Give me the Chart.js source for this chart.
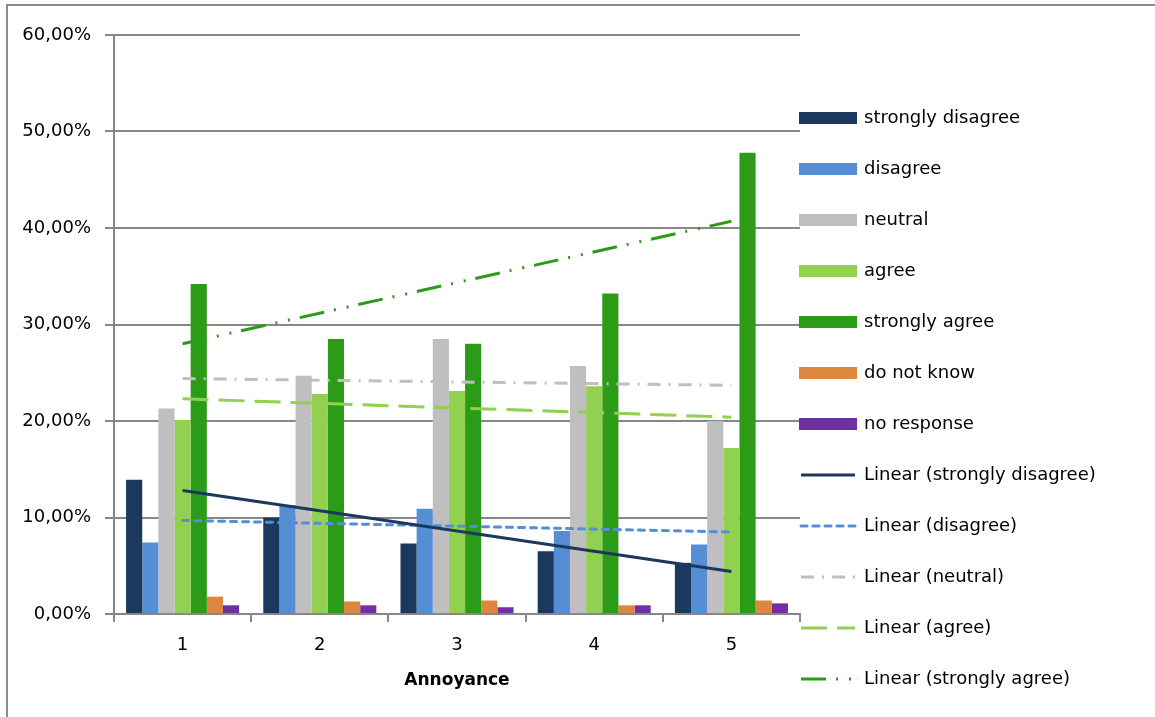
<!DOCTYPE html>
<html>
<head>
<meta charset="utf-8">
<title>Annoyance</title>
<script src="https://cdn.jsdelivr.net/npm/chart.js@4.4.1/dist/chart.umd.min.js"></script>
<style>
  html, body { margin: 0; padding: 0; background: #ffffff; }
  canvas { display: block; }
</style>
</head>
<body>
<canvas id="chart" width="1155" height="717"></canvas>
<script>
// Annoyance levels 1..5
const categories = ['1', '2', '3', '4', '5'];

// Share of answers per annoyance level (percent)
const stronglyDisagree = [13.9, 10.0, 7.3, 6.5, 5.3];
const disagree         = [7.4, 11.3, 10.9, 8.6, 7.2];
const neutral          = [21.3, 24.7, 28.5, 25.7, 20.0];
const agree            = [20.1, 22.8, 23.1, 23.6, 17.2];
const stronglyAgree    = [34.2, 28.5, 28.0, 33.2, 47.8];
const doNotKnow        = [1.8, 1.3, 1.4, 0.9, 1.4];
const noResponse       = [0.9, 0.9, 0.7, 0.9, 1.1];

// Linear trend lines: value at level 1 and at level 5
const trendStronglyDisagree = [12.8, null, null, null, 4.4];
const trendDisagree         = [9.7, null, null, null, 8.5];
const trendNeutral          = [24.4, null, null, null, 23.7];
const trendAgree            = [22.3, null, null, null, 20.4];
const trendStronglyAgree    = [28.0, null, null, null, 40.7];

const yTicks = [0, 10, 20, 30, 40, 50, 60];

const FONT = "'DejaVu Sans', Verdana, sans-serif";
const GRID = '#878787';

function bar(label, data, color) {
  return { type: 'bar', label, data, backgroundColor: color, borderWidth: 0, order: 1 };
}
function trend(label, data, color, dash, cap) {
  return {
    type: 'line', label, data, borderColor: color, backgroundColor: color,
    borderWidth: 3, borderDash: dash, borderCapStyle: cap || 'butt',
    pointRadius: 0, pointHoverRadius: 0, spanGaps: true, tension: 0, fill: false, order: 0
  };
}

const datasets = [
  bar('strongly disagree', stronglyDisagree, '#1B385D'),
  bar('disagree', disagree, '#558ED5'),
  bar('neutral', neutral, '#BFBFBF'),
  bar('agree', agree, '#92D050'),
  bar('strongly agree', stronglyAgree, '#2C9B17'),
  bar('do not know', doNotKnow, '#DC8640'),
  bar('no response', noResponse, '#7030A0'),
  trend('Linear (strongly disagree)', trendStronglyDisagree, '#1B385D', []),
  trend('Linear (disagree)', trendDisagree, '#558ED5', [6, 6], 'round'),
  trend('Linear (neutral)', trendNeutral, '#BFBFBF', [13, 8, 2, 8]),
  trend('Linear (agree)', trendAgree, '#92D050', [26, 10]),
  trend('Linear (strongly agree)', trendStronglyAgree, '#2C9B17', [25, 10, 2, 11, 2, 10])
];

// Frame around the whole chart plus a vertical legend on the right
const frameAndLegend = {
  id: 'frameAndLegend',
  beforeDraw(chart) {
    const ctx = chart.ctx;
    ctx.save();
    ctx.strokeStyle = '#8a8a8a';
    ctx.lineWidth = 2;
    ctx.strokeRect(7, 5, chart.width + 20, chart.height + 20);
    ctx.restore();
  },
  afterDraw(chart) {
    const ctx = chart.ctx;
    const x0 = 799, sw = 58, y0 = 118, step = 51;
    ctx.save();
    ctx.font = '18px ' + FONT;
    ctx.textBaseline = 'middle';
    ctx.textAlign = 'left';
    chart.data.datasets.forEach((ds, i) => {
      const y = y0 + i * step;
      if (ds.type === 'bar') {
        ctx.fillStyle = ds.backgroundColor;
        ctx.fillRect(x0, y - 6, sw, 12);
      } else {
        ctx.strokeStyle = ds.borderColor;
        ctx.lineWidth = 3;
        ctx.lineCap = ds.borderCapStyle;
        ctx.setLineDash(ds.borderDash || []);
        ctx.beginPath();
        ctx.moveTo(x0 + 2, y);
        ctx.lineTo(x0 + sw - 2, y);
        ctx.stroke();
        ctx.setLineDash([]);
      }
      ctx.fillStyle = '#000000';
      ctx.fillText(ds.label, x0 + sw + 7, y);
    });
    ctx.restore();
  }
};

new Chart(document.getElementById('chart'), {
  data: { labels: categories, datasets },
  plugins: [frameAndLegend],
  options: {
    responsive: false,
    animation: false,
    devicePixelRatio: 1,
    layout: { padding: { left: 0, right: 355, top: 35, bottom: 0 } },
    datasets: { bar: { categoryPercentage: 0.824, barPercentage: 1.0 } },
    plugins: { legend: { display: false }, tooltip: { enabled: false } },
    scales: {
      x: {
        type: 'category',
        offset: true,
        grid: { offset: true, drawOnChartArea: false, drawTicks: true, tickLength: 8, color: GRID, lineWidth: 2 },
        border: { display: true, color: GRID, width: 2 },
        ticks: { color: '#000000', font: { family: FONT, size: 18 }, padding: 13, maxRotation: 0 },
        title: { display: true, text: 'Annoyance', color: '#000000', font: { family: FONT, size: 17, weight: 'bold' }, padding: { top: 0, bottom: 26 } },
        afterFit(scale) { scale.height = 103; }
      },
      y: {
        min: 0, max: 60,
        afterBuildTicks(scale) { scale.ticks = yTicks.map(v => ({ value: v })); },
        grid: { color: GRID, lineWidth: 2, drawTicks: true, tickLength: 9 },
        border: { display: true, color: GRID, width: 2 },
        ticks: {
          color: '#000000', font: { family: FONT, size: 18 }, padding: 14,
          callback: v => v.toFixed(2).replace('.', ',') + '%'
        },
        afterFit(scale) { scale.width = 114; }
      }
    }
  }
});
</script>
</body>
</html>
